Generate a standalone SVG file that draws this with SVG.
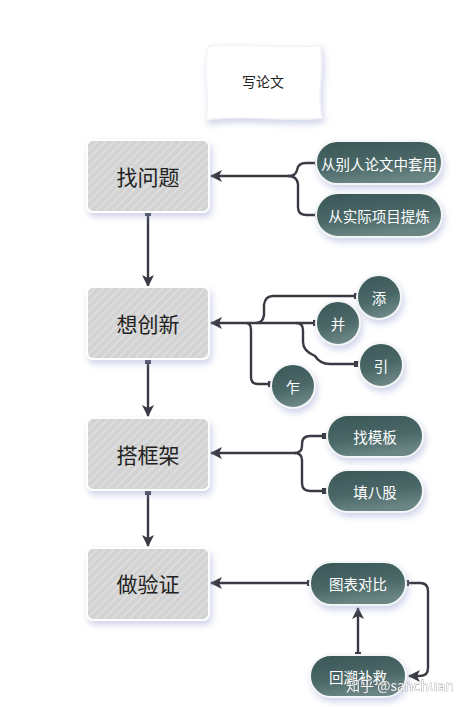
<svg xmlns="http://www.w3.org/2000/svg" width="475" height="707" viewBox="0 0 475 707">
<defs>
<style>
.main rect{fill:url(#hatch);stroke:#fff;stroke-width:2;filter:url(#sh)}
.main text{font-family:"Noto Sans CJK SC","Noto Sans",sans-serif;font-size:21px;fill:#222;text-anchor:middle;dominant-baseline:central}
.sub rect,.sub circle{fill:url(#teal);stroke:#f2f6f5;stroke-width:2;filter:url(#sh)}
.sub text{font-family:"Noto Sans CJK SC","Noto Sans",sans-serif;font-size:14.5px;fill:#fff;text-anchor:middle;dominant-baseline:central}
.conn path{fill:none;stroke:#3a3a44;stroke-width:2.4}
.arr{marker-end:url(#ah)}
.sq{marker-start:url(#sqm)}
</style>
<pattern id="hatch" width="6" height="6" patternUnits="userSpaceOnUse" patternTransform="rotate(45)">
<rect width="6" height="6" fill="#d3d3d3"/>
<rect width="2" height="6" fill="#dddddd"/>
</pattern>
<linearGradient id="teal" x1="0" y1="0" x2="0.3" y2="1">
<stop offset="0" stop-color="#3b5656"/>
<stop offset="0.6" stop-color="#4a6767"/>
<stop offset="1" stop-color="#6a8584"/>
</linearGradient>
<filter id="sh" x="-30%" y="-30%" width="160%" height="170%">
<feDropShadow dx="2" dy="4" stdDeviation="3" flood-color="#9aa0d0" flood-opacity="0.45"/>
</filter>
<marker id="ah" viewBox="0 0 12 12" refX="11" refY="6" markerWidth="12" markerHeight="12" markerUnits="userSpaceOnUse" orient="auto">
<path d="M0,0 L12,6 L0,12 L3,6 Z" fill="#3a3a44"/>
</marker>
<marker id="sqm" viewBox="0 0 6 6" refX="3" refY="3" markerWidth="6" markerHeight="6" markerUnits="userSpaceOnUse" orient="auto">
<rect width="6" height="6" fill="#3a3a44"/>
</marker>
</defs>
<rect width="475" height="707" fill="#fff"/>

<g id="connectors" class="conn">
<path class="arr sq" d="M148,213 V286"/>
<path class="arr sq" d="M148,361 V416"/>
<path class="arr sq" d="M148,492 V546"/>
<path class="sq" d="M318,163 H306 Q298,163 297,170 Q296,176 288,176"/>
<path class="arr sq" d="M318,215 H306 Q298,215 298,207 V184 Q297,176 288,176 H211"/>
<path class="arr sq" d="M316,323 H211"/>
<path class="sq" d="M357,296 H273 Q265,296 264,305 V315 Q263,323 256,323"/>
<path class="sq" d="M357,364 H330 Q320,364 315,356 Q303,351 303,342 V330 Q303,323 296,323"/>
<path class="sq" d="M271,384 H258 Q251,384 251,377 V330 Q251,323 246,323"/>
<path class="sq" d="M325,436 H310 Q302,436 302,444 V446 Q302,453 294,453"/>
<path class="arr sq" d="M325,491 H310 Q302,491 302,483 V460 Q302,453 294,453 H211"/>
<path class="arr sq" d="M310,583 H211"/>
<path class="arr sq" d="M358,655 V608"/>
<path class="arr sq" d="M406,583 H420 Q428,583 428,591 V668 Q428,676 420,676 H409"/>
</g>

<g id="n-top">
<path d="M209,46 C240,42 290,50 320,45 C325,70 316,95 322,118 C290,122 240,114 206,120 C211,95 201,70 209,46 Z" fill="#fff" stroke="#f4f4f8" stroke-width="1.5" filter="url(#sh)"/>
<text x="263" y="81" font-family="'Noto Sans CJK SC',sans-serif" font-size="14" fill="#222" text-anchor="middle" dominant-baseline="central">写论文</text>
</g>

<g id="n-1" class="main"><rect x="87" y="140" width="122" height="72" rx="6"/><text x="148" y="176">找问题</text></g>
<g id="n-2" class="main"><rect x="87" y="287" width="122" height="72" rx="6"/><text x="148" y="323">想创新</text></g>
<g id="n-3" class="main"><rect x="87" y="418" width="122" height="72" rx="6"/><text x="148" y="454">搭框架</text></g>
<g id="n-4" class="main"><rect x="87" y="548" width="122" height="72" rx="6"/><text x="148" y="583">做验证</text></g>

<g id="s-1a" class="sub"><rect x="316" y="141" width="126" height="43" rx="21.5"/><text x="379" y="163">从别人论文中套用</text></g>
<g id="s-1b" class="sub"><rect x="316" y="193" width="126" height="44" rx="22"/><text x="379" y="215">从实际项目提炼</text></g>

<g id="s-2a" class="sub"><circle cx="379" cy="297" r="22"/><text x="379" y="297">添</text></g>
<g id="s-2b" class="sub"><circle cx="338" cy="323" r="22"/><text x="338" y="323">并</text></g>
<g id="s-2c" class="sub"><circle cx="381" cy="365" r="22"/><text x="381" y="365">引</text></g>
<g id="s-2d" class="sub"><circle cx="293" cy="386" r="22"/><text x="293" y="386">乍</text></g>

<g id="s-3a" class="sub"><rect x="327" y="415" width="96" height="42" rx="21"/><text x="375" y="436">找模板</text></g>
<g id="s-3b" class="sub"><rect x="327" y="470" width="96" height="42" rx="21"/><text x="375" y="491">填八股</text></g>

<g id="s-4a" class="sub"><rect x="310" y="562" width="96" height="43" rx="21.5"/><text x="358" y="583">图表对比</text></g>
<g id="s-4b" class="sub"><rect x="310" y="655" width="96" height="42" rx="21"/><text x="358" y="676">回溯补救</text></g>

<text x="346" y="691" font-family="'Noto Sans CJK SC',sans-serif" font-size="14" fill="#fff" stroke="#777" stroke-width="0.6" paint-order="stroke" opacity="0.9">知乎 @sanchuan</text>
</svg>
